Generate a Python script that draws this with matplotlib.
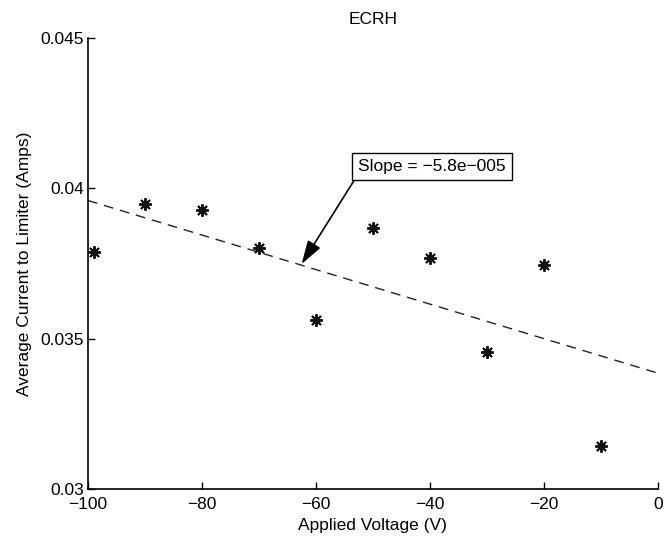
import numpy as np
import matplotlib
matplotlib.use("Agg")
import matplotlib.pyplot as plt

# data
voltage = [-99, -90, -80, -70, -60, -50, -40, -30, -20, -10]
current = [0.03788, 0.03947, 0.03927, 0.03801, 0.03563,
           0.03868, 0.03768, 0.03454, 0.03745, 0.03142]

x_ticks = [-100, -80, -60, -40, -20, 0]
y_ticks = [0.03, 0.035, 0.04, 0.045]
y_tick_labels = ["0.03", "0.035", "0.04", "0.045"]

plt.rcParams['font.family'] = ['Liberation Sans', 'DejaVu Sans']
plt.rcParams['font.size'] = 12.5

fig = plt.figure(figsize=(6.64, 5.42), dpi=100)
ax = fig.add_axes([0.1325, 0.098, 0.858, 0.832])

# least squares fit, drawn across the whole axis
slope, icept = np.polyfit(voltage, current, 1)
xfit = np.array([-100, 0])
ax.plot(xfit, slope * xfit + icept, linestyle=(0, (7, 5)), color="#222222", linewidth=1.0)

ax.plot(voltage, current, linestyle="none", marker=(8, 2, 0), markersize=9,
        markeredgewidth=1.4, color="#111111")

ax.annotate("Slope = \u22125.8e\u2212005", xy=(-62.5, 0.03748), xytext=(-39.6, 0.04073),
            ha="center", va="center", fontsize=12.5,
            bbox=dict(boxstyle="square,pad=0.35", facecolor="white", edgecolor="black", linewidth=1.0),
            arrowprops=dict(arrowstyle="-|>,head_length=0.8,head_width=0.25", color="black",
                            linewidth=1.2, relpos=(0, 0), shrinkA=0, shrinkB=0, mutation_scale=18))

ax.set_xlim(-100, 0)
ax.set_ylim(0.03, 0.045)
ax.set_xticks(x_ticks)
ax.set_yticks(y_ticks)
ax.set_yticklabels(y_tick_labels)
ax.tick_params(direction="in", length=5, width=1.0)
ax.tick_params(axis="x", pad=6)
ax.tick_params(axis="y", pad=3)
for s in ["top", "right"]:
    ax.spines[s].set_visible(False)
for s in ["left", "bottom"]:
    ax.spines[s].set_linewidth(1.2)

ax.set_title("ECRH", fontsize=12.5, pad=10)
ax.set_xlabel("Applied Voltage (V)", labelpad=4)
ax.set_ylabel("Average Current to Limiter (Amps)", labelpad=6)

fig.savefig("out.png", dpi=100)
